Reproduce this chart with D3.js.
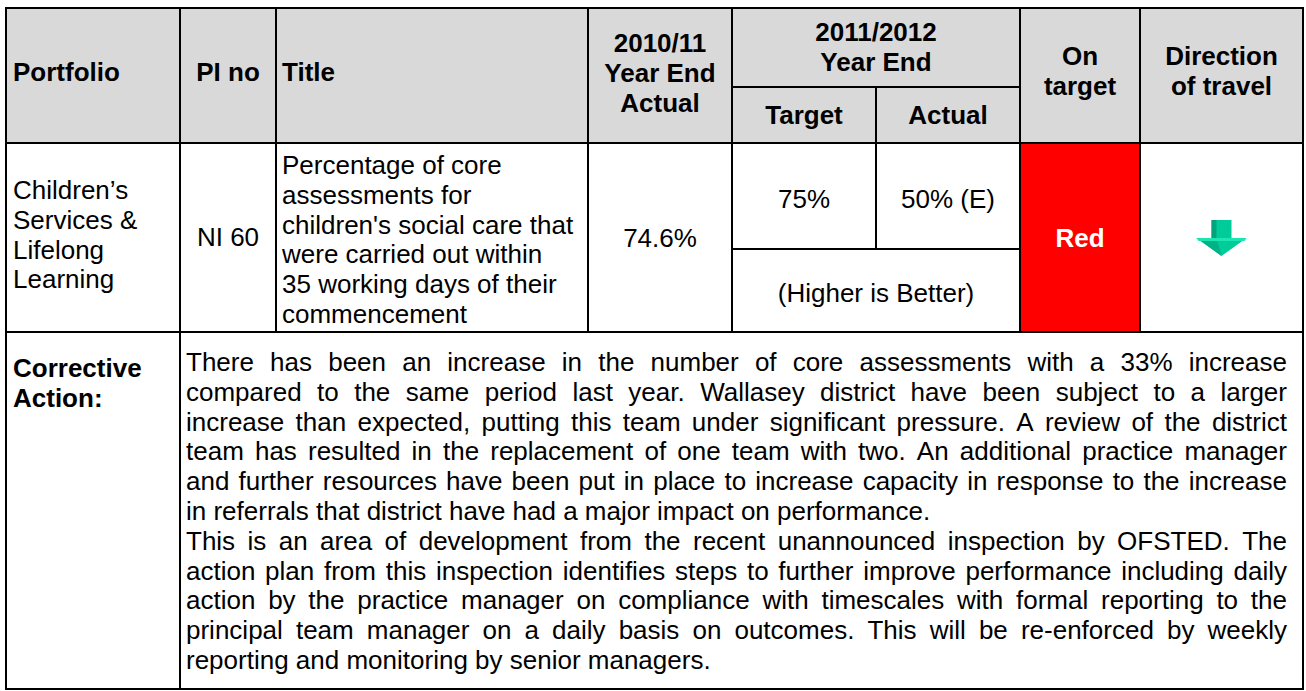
<!DOCTYPE html>
<html>
<head>
<meta charset="utf-8">
<script src="https://cdn.jsdelivr.net/npm/d3@7"></script>
<style>
    body { margin: 0; background: #fff; }
    svg text { font-family: "Liberation Sans", Arial, sans-serif; fill: #000; }
</style>
</head>
<body>
<div id="table"></div>
<script>
// table content
var headerLines = [["Portfolio"], ["PI no"], ["Title"], ["2010/11", "Year End", "Actual"], ["2011/2012", "Year End"], ["On", "target"], ["Direction", "of travel"]];
var subHeaders = ["Target", "Actual"];
var portfolio = ["Children\u2019s", "Services &", "Lifelong", "Learning"];
var piNo = "NI 60";
var titleLines = ["Percentage of core", "assessments for", "children's social care that", "were carried out within", "35 working days of their", "commencement"];
var actual2010 = "74.6%";
var target2012 = "75%";
var actual2012 = "50% (E)";
var polarity = "(Higher is Better)";
var status = "Red";
var direction = "down";
var correctiveLabel = ["Corrective", "Action:"];
var correctiveParas = [
    ["There has been an increase in the number of core assessments with a 33% increase",
     "compared to the same period last year. Wallasey district have been subject to a larger",
     "increase than expected, putting this team under significant pressure. A review of the district",
     "team has resulted in the replacement of one team with two. An additional practice manager",
     "and further resources have been put in place to increase capacity in response to the increase",
     "in referrals that district have had a major impact on performance."],
    ["This is an area of development from the recent unannounced inspection by OFSTED. The",
     "action plan from this inspection identifies steps to further improve performance including daily",
     "action by the practice manager on compliance with timescales with formal reporting to the",
     "principal team manager on a daily basis on outcomes. This will be re-enforced by weekly",
     "reporting and monitoring by senior managers."]
];

// layout
var W = 1306, H = 691;
var colX = [6, 180, 276, 588, 732, 876, 1020, 1140, 1303];
var yTop = 8, ySub = 87, yHead = 143, yMid = 249, yRow = 332, yBot = 689;
var fs = 26, lh = 29.8;

var svg = d3.select("#table").append("svg")
    .attr("width", W)
    .attr("height", H);

function mid(i, j) { return (colX[i] + colX[j]) / 2; }

// header background
svg.append("rect")
    .attr("x", colX[0]).attr("y", yTop)
    .attr("width", colX[8] - colX[0]).attr("height", yHead - yTop)
    .attr("fill", "#d9d9d9");

// red status cell
svg.append("rect")
    .attr("x", colX[6]).attr("y", yHead)
    .attr("width", colX[7] - colX[6]).attr("height", yRow - yHead)
    .attr("fill", status == "Red" ? "#ff0000" : "#00b050");

function addText(x, y, s, anchor, bold, color) {
    return svg.append("text")
        .attr("x", x).attr("y", y)
        .attr("text-anchor", anchor || "start")
        .style("font-size", fs + "px")
        .style("font-weight", bold ? "bold" : "normal")
        .style("fill", color || "#000")
        .text(s);
}

function addLines(x, y0, lines, anchor, bold) {
    lines.forEach(function (s, i) {
        addText(x, y0 + i * lh, s, anchor, bold);
    });
}

// header texts
addLines(colX[0] + 7, 81, headerLines[0], "start", true);
addLines(mid(1, 2), 81, headerLines[1], "middle", true);
addLines(colX[2] + 6, 81, headerLines[2], "start", true);
addLines(mid(3, 4), 52, headerLines[3], "middle", true);
addLines(mid(4, 6), 41, headerLines[4], "middle", true);
addLines(mid(6, 7), 65, headerLines[5], "middle", true);
addLines(mid(7, 8), 65, headerLines[6], "middle", true);
addText(mid(4, 5), 124, subHeaders[0], "middle", true);
addText(mid(5, 6), 124, subHeaders[1], "middle", true);

// data row
addLines(colX[0] + 7, 199, portfolio, "start", false);
addText(mid(1, 2), 246, piNo, "middle", false);
addLines(colX[2] + 6, 174, titleLines, "start", false);
addText(mid(3, 4), 247, actual2010, "middle", false);
addText(mid(4, 5), 208, target2012, "middle", false);
addText(mid(5, 6), 208, actual2012, "middle", false);
addText(mid(4, 6), 302, polarity, "middle", false);
addText(mid(6, 7), 247, status, "middle", true, "#fff");

// direction of travel arrow
function drawArrow(cx, top, dir) {
    var g = svg.append("g")
        .attr("transform", "translate(" + cx + "," + top + ")" + (dir == "up" ? " translate(0,36) scale(1,-1)" : ""));
    // shaft
    g.append("rect").attr("x", -10).attr("y", 0).attr("width", 20).attr("height", 19).attr("fill", "#00cc99");
    g.append("rect").attr("x", -10).attr("y", 0).attr("width", 5).attr("height", 19).attr("fill", "#00a37c");
    // head
    g.append("path").attr("d", "M-25,18 L25,18 L0,36 Z").attr("fill", "#00cc99");
    g.append("path").attr("d", "M-25,18 L-5,18 L0,36 Z").attr("fill", "#00b387");
    g.append("path").attr("d", "M-25,18 L25,18 L23,21 L-23,21 Z").attr("fill", "#19e6b0");
}
drawArrow(mid(7, 8), 220, direction);

// corrective action
addLines(colX[0] + 7, 377, correctiveLabel, "start", true);

var textLeft = colX[1] + 6, textRight = 1287;
var measure = svg.append("text").style("font-size", fs + "px").attr("visibility", "hidden");
function wordWidth(w) {
    measure.text(w);
    return measure.node().getComputedTextLength();
}

var lineNo = 0;
correctiveParas.forEach(function (para) {
    para.forEach(function (line, k) {
        var y = 371 + lineNo * lh;
        if (k == para.length - 1) {
            addText(textLeft, y, line, "start", false);
        } else {
            // justify: spread words across the column
            var words = line.split(" ");
            var widths = words.map(wordWidth);
            var gap = (textRight - textLeft - d3.sum(widths)) / (words.length - 1);
            var x = textLeft;
            words.forEach(function (w, i) {
                addText(x, y, w, "start", false);
                x += widths[i] + gap;
            });
        }
        lineNo++;
    });
});
measure.remove();

// grid lines
var lines = [
    // outer border
    [colX[0], yTop, colX[8], yTop],
    [colX[0], yBot, colX[8], yBot],
    [colX[0], yTop, colX[0], yBot],
    [colX[8], yTop, colX[8], yBot],
    // horizontal rules
    [colX[0], yHead, colX[8], yHead],
    [colX[0], yRow, colX[8], yRow],
    [colX[4], ySub, colX[6], ySub],
    [colX[4], yMid, colX[6], yMid],
    // column rules
    [colX[1], yTop, colX[1], yBot],
    [colX[2], yTop, colX[2], yRow],
    [colX[3], yTop, colX[3], yRow],
    [colX[4], yTop, colX[4], yRow],
    [colX[5], ySub, colX[5], yMid],
    [colX[6], yTop, colX[6], yRow],
    [colX[7], yTop, colX[7], yRow]
];
svg.selectAll("line.grid")
    .data(lines)
    .enter()
    .append("line")
    .attr("class", "grid")
    .attr("x1", function (d) { return d[0]; })
    .attr("y1", function (d) { return d[1]; })
    .attr("x2", function (d) { return d[2]; })
    .attr("y2", function (d) { return d[3]; })
    .attr("stroke", "#000")
    .attr("stroke-width", 2)
    .attr("stroke-linecap", "square");
</script>
</body>
</html>
